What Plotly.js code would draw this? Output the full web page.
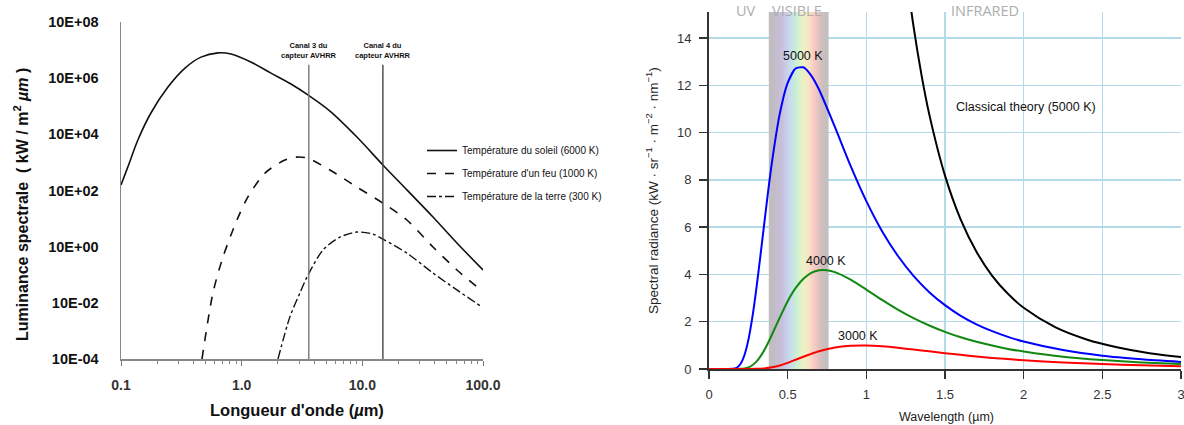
<!DOCTYPE html>
<html>
<head>
<meta charset="utf-8">
<script src="https://cdn.plot.ly/plotly-3.0.1.min.js"></script>
<style>html,body{margin:0;padding:0;background:#fff;}#chart{width:1184px;height:425px;}</style>
</head>
<body>
<div id="chart"></div>
<script>
// ---------- Left chart data (log-log) ----------
const sunWavelength = [0.1, 0.114, 0.138, 0.177, 0.245, 0.339, 0.46, 0.637, 0.815, 1.19, 1.75, 2.56, 3.61, 5.39, 9.02, 14.8, 23.4, 38.5, 60.8, 100];
const sunRadiance   = [158, 692, 6310, 57500, 484000, 2.29e6, 5.62e6, 7.94e6, 7.24e6, 3.76e6, 1.51e6, 6.17e5, 2.4e5, 6.76e4, 8.04e3, 813, 105, 11.4, 1.35, 0.148];

const fireWavelength = [0.469, 0.578, 0.70, 0.914, 1.127, 1.56, 2.28, 2.82, 3.48, 5.39, 9.02, 14.8, 23.4, 38.5, 60.8, 100];
const fireRadiance   = [1e-4, 2.24e-2, 0.427, 8.91, 58.9, 417, 1216, 1549, 1445, 537, 132, 35.5, 8.91, 0.977, 0.148, 0.0251];

const earthWavelength = [2.0, 2.51, 3.04, 3.48, 4.72, 6.52, 9.02, 12.2, 14.8, 23.4, 38.5, 60.8, 98];
const earthRadiance   = [1e-4, 3.16e-3, 2.24e-2, 8.32e-2, 0.759, 2.19, 3.31, 2.82, 1.86, 0.589, 0.115, 0.0288, 0.00708];

const legendNames = ["Température du soleil (6000 K)", "Température d'un feu (1000 K)", "Température de la terre (300 K)"];

const canalWavelength = [3.6, 14.8];
const canalLabels = ["Canal 3 du<br>capteur AVHRR", "Canal 4 du<br>capteur AVHRR"];
const canalTop = 3e6;
const canalBottom = 1e-4;

const leftYTickVals = [1e-4, 1e-2, 1, 1e2, 1e4, 1e6, 1e8];
const leftYTickText = ["10E-04", "10E-02", "10E+00", "10E+02", "10E+04", "10E+06", "10E+08"];
const leftXTickVals = [0.1, 1, 10, 100];
const leftXTickText = ["0.1", "1.0", "10.0", "100.0"];
const leftXMinor = [0.2,0.3,0.4,0.5,0.6,0.7,0.8,0.9,2,3,4,5,6,7,8,9,20,30,40,50,60,70,80,90];

// ---------- Right chart data (linear) ----------
const wl5000 = [0, 0.1, 0.15, 0.175, 0.2, 0.225, 0.25, 0.275, 0.3, 0.325, 0.35, 0.375, 0.4, 0.45, 0.5, 0.55, 0.6, 0.65, 0.7, 0.8, 0.9, 1.0, 1.1, 1.2, 1.3, 1.4, 1.5, 1.6, 1.7, 1.8, 1.9, 2.0, 2.25, 2.5, 2.75, 3.0];
const rad5000 = [0, 0, 0.01, 0.05, 0.21, 0.58, 1.22, 2.16, 3.35, 4.69, 6.09, 7.47, 8.74, 10.8, 12.1, 12.71, 12.76, 12.41, 11.81, 10.24, 8.59, 7.10, 5.83, 4.79, 3.94, 3.25, 2.70, 2.25, 1.89, 1.60, 1.36, 1.16, 0.80, 0.56, 0.41, 0.30];

const wl4000 = [0, 0.15, 0.2, 0.225, 0.25, 0.275, 0.3, 0.325, 0.35, 0.375, 0.4, 0.45, 0.5, 0.55, 0.6, 0.65, 0.7, 0.75, 0.8, 0.9, 1.0, 1.1, 1.2, 1.3, 1.4, 1.5, 1.6, 1.7, 1.8, 1.9, 2.0, 2.25, 2.5, 2.75, 3.0];
const rad4000 = [0, 0, 0.006, 0.024, 0.07, 0.16, 0.30, 0.51, 0.78, 1.10, 1.45, 2.18, 2.87, 3.42, 3.82, 4.07, 4.18, 4.18, 4.10, 3.78, 3.36, 2.92, 2.51, 2.15, 1.84, 1.57, 1.34, 1.15, 0.99, 0.85, 0.74, 0.52, 0.38, 0.28, 0.21];

const wl3000 = [0, 0.2, 0.25, 0.3, 0.35, 0.4, 0.45, 0.5, 0.55, 0.6, 0.65, 0.7, 0.8, 0.9, 1.0, 1.1, 1.2, 1.3, 1.4, 1.5, 1.6, 1.7, 1.8, 1.9, 2.0, 2.25, 2.5, 2.75, 3.0];
const rad3000 = [0, 0, 0.001, 0.006, 0.025, 0.072, 0.15, 0.26, 0.39, 0.52, 0.64, 0.75, 0.91, 0.98, 0.99, 0.96, 0.90, 0.82, 0.75, 0.67, 0.60, 0.53, 0.47, 0.42, 0.37, 0.28, 0.21, 0.16, 0.12];

const wlClassical = [1.25, 1.3, 1.35, 1.4, 1.5, 1.6, 1.7, 1.8, 1.9, 2.0, 2.2, 2.4, 2.6, 2.8, 3.0];
const radClassical = [16.95, 14.49, 12.46, 10.77, 8.18, 6.32, 4.96, 3.94, 3.18, 2.59, 1.77, 1.25, 0.91, 0.67, 0.51];

const visibleBand = [0.38, 0.76];
const rightYMax = 15.1;
const rightXTicks = [0, 0.5, 1, 1.5, 2, 2.5, 3];
const rightXTickText = ["0", "0.5", "1", "1.5", "2", "2.5", "3"];

// ---------- Styles ----------
const F = "Liberation Sans, Arial, sans-serif";
const W = 1184, H = 425;
const px = v => v / W, py = v => 1 - v / H;
const gridBlue = "#b3dbe7";

const traces = [];
traces.push({x: sunWavelength, y: sunRadiance, xaxis: "x", yaxis: "y", type: "scatter", mode: "lines",
  name: legendNames[0], legendgroup: "a", line: {color: "#111", width: 1.6, shape: "spline", smoothing: 0.9}, hoverinfo: "skip"});
traces.push({x: fireWavelength, y: fireRadiance, xaxis: "x", yaxis: "y", type: "scatter", mode: "lines",
  name: legendNames[1], legendgroup: "b", line: {color: "#111", width: 1.6, dash: "dash", shape: "spline", smoothing: 0.8}, hoverinfo: "skip"});
traces.push({x: earthWavelength, y: earthRadiance, xaxis: "x", yaxis: "y", type: "scatter", mode: "lines",
  name: legendNames[2], legendgroup: "c", line: {color: "#111", width: 1.4, dash: "dashdot", shape: "spline", smoothing: 0.8}, hoverinfo: "skip"});
canalWavelength.forEach((w, i) => {
  traces.push({x: [w, w], y: [canalBottom, canalTop], xaxis: "x", yaxis: "y", type: "scatter", mode: "lines",
    line: {color: i === 0 ? "#777" : "#444", width: 1.4}, showlegend: false, hoverinfo: "skip"});
});

traces.push({x: [visibleBand[0], visibleBand[1], visibleBand[1], visibleBand[0], visibleBand[0]],
  y: [0, 0, rightYMax, rightYMax, 0], xaxis: "x2", yaxis: "y2", type: "scatter", mode: "lines",
  fill: "toself", line: {width: 0}, showlegend: false, hoverinfo: "skip",
  fillcolor: "#c0c0c0",
  fillgradient: {type: "horizontal", colorscale: [
    [0, "#bfbfbf"], [0.08, "#c2bcc6"], [0.22, "#c7bfdc"], [0.36, "#c8dcee"], [0.46, "#c9f0d6"],
    [0.56, "#e8f3c4"], [0.66, "#f8e6c4"], [0.76, "#f8cac4"], [0.88, "#d2bebe"], [1, "#bfbfbf"]]}});

traces.push({x: wlClassical, y: radClassical, xaxis: "x2", yaxis: "y2", type: "scatter", mode: "lines",
  line: {color: "#000", width: 2, shape: "spline"}, showlegend: false, hoverinfo: "skip"});
traces.push({x: wl5000, y: rad5000, xaxis: "x2", yaxis: "y2", type: "scatter", mode: "lines",
  line: {color: "#0000ff", width: 2, shape: "spline", smoothing: 0.6}, showlegend: false, hoverinfo: "skip"});
traces.push({x: wl4000, y: rad4000, xaxis: "x2", yaxis: "y2", type: "scatter", mode: "lines",
  line: {color: "#118811", width: 2, shape: "spline", smoothing: 0.6}, showlegend: false, hoverinfo: "skip"});
traces.push({x: wl3000, y: rad3000, xaxis: "x2", yaxis: "y2", type: "scatter", mode: "lines",
  line: {color: "#ff0000", width: 2, shape: "spline", smoothing: 0.6}, showlegend: false, hoverinfo: "skip"});

const pa = (text, x, y, font, extra) => Object.assign({text, xref: "paper", yref: "paper", x: px(x), y: py(y),
  xanchor: "center", yanchor: "middle", showarrow: false, font}, extra || {});
const greyLbl = {family: "Open Sans, sans-serif", size: 14.5, color: "#aeaeae"};

const annotations = [
  pa("Luminance spectrale  ( kW / m<sup>2</sup> <i>µm</i> )", 21, 205, {family: F, size: 16, color: "#111", weight: "bold"}, {textangle: -90}),
  pa("Longueur d'onde (<i>µ</i>m)", 297, 410, {family: F, size: 16.5, color: "#111", weight: "bold"}),
  pa("Spectral radiance (kW · sr<sup>−1</sup> · m<sup>−2</sup> · nm<sup>−1</sup>)", 652, 191, {family: F, size: 13.5, color: "#222"}, {textangle: -90}),
  pa("Wavelength (µm)", 946, 417, {family: F, size: 12.5, color: "#222"}),
  {text: "5000 K", xref: "x2", yref: "y2", x: 0.599, y: 13.22, showarrow: false, font: {family: F, size: 12.5, color: "#111"}},
  {text: "4000 K", xref: "x2", yref: "y2", x: 0.745, y: 4.58, showarrow: false, font: {family: F, size: 12.5, color: "#111"}},
  {text: "3000 K", xref: "x2", yref: "y2", x: 0.949, y: 1.40, showarrow: false, font: {family: F, size: 12.5, color: "#111"}},
  {text: "Classical theory (5000 K)", xref: "x2", yref: "y2", x: 1.554, y: 11.1, xanchor: "left", showarrow: false,
    font: {family: F, size: 12.5, color: "#111"}},
  pa("UV", 746, 10, greyLbl),
  pa("VISIBLE", 797, 10, greyLbl),
  pa("INFRARED", 985, 10, greyLbl)
];
canalWavelength.forEach((w, i) => {
  annotations.push({text: canalLabels[i], xref: "x", yref: "paper", x: Math.log10(w), y: py(50), xanchor: "center", yanchor: "middle",
    showarrow: false, font: {family: F, size: 7.5, color: "#111", weight: "bold"}});
});

const layout = {
  width: W, height: H,
  margin: {l: 0, r: 0, t: 0, b: 0},
  paper_bgcolor: "#fff", plot_bgcolor: "rgba(0,0,0,0)",
  showlegend: true,
  legend: {x: px(422), y: py(136), xanchor: "left", yanchor: "top", bgcolor: "rgba(0,0,0,0)",
    font: {family: F, size: 10, color: "#111"}, itemwidth: 30, traceorder: "grouped", tracegroupgap: 4},
  xaxis: {type: "log", range: [-1, 2], domain: [px(121), px(483)], anchor: "y",
    tickmode: "array", tickvals: leftXTickVals, ticktext: leftXTickText,
    tickfont: {family: F, size: 14, color: "#333", weight: "bold"}, ticks: "outside", ticklen: 5, tickcolor: "#777", tickwidth: 1,
    ticklabelstandoff: 8,
    minor: {tickmode: "array", tickvals: leftXMinor, ticks: "outside", ticklen: 3, tickcolor: "#888", showgrid: false},
    showline: true, linecolor: "#888", linewidth: 1.5, showgrid: false, zeroline: false},
  yaxis: {type: "log", range: [-4, 8], domain: [1 - 359 / H, 1 - 22 / H], anchor: "x",
    tickmode: "array", tickvals: leftYTickVals, ticktext: leftYTickText,
    tickfont: {family: F, size: 14.5, color: "#111", weight: "bold"}, ticks: "", ticklabelstandoff: 18,
    showline: true, linecolor: "#888", linewidth: 1.5, showgrid: false, zeroline: false},
  xaxis2: {range: [0, 3], domain: [px(709), px(1181)], anchor: "y2",
    tickmode: "array", tickvals: rightXTicks, ticktext: rightXTickText, ticklabeloverflow: "allow",
    tickfont: {family: F, size: 13, color: "#333"}, ticks: "outside", ticklen: 8, tickcolor: "#333", tickwidth: 1.5,
    ticklabelstandoff: 4,
    showgrid: true, gridcolor: gridBlue, gridwidth: 1.5, showline: true, linecolor: "#333", linewidth: 2, zeroline: false},
  yaxis2: {range: [0, rightYMax], domain: [1 - 369 / H, 1 - 12 / H], anchor: "x2",
    tick0: 0, dtick: 2, tickfont: {family: F, size: 13, color: "#333"}, ticks: "outside", ticklen: 8, tickcolor: "#333", tickwidth: 1.5,
    ticklabelstandoff: 5,
    showgrid: true, gridcolor: gridBlue, gridwidth: 1.5, showline: true, linecolor: "#333", linewidth: 2, zeroline: false},
  annotations: annotations
};

Plotly.newPlot("chart", traces, layout, {displayModeBar: false, staticPlot: true});
</script>
</body>
</html>
